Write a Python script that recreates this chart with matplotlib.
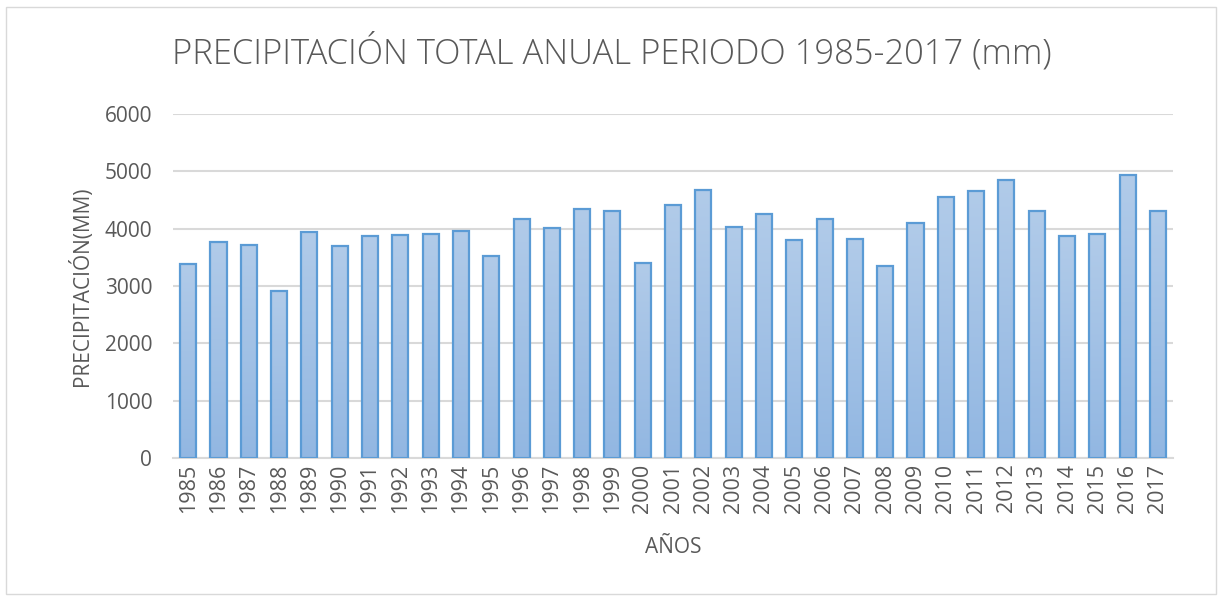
import matplotlib.pyplot as plt
import numpy as np
from matplotlib.patches import Rectangle
from matplotlib.colors import LinearSegmentedColormap

years = [str(y) for y in range(1985, 2018)]
precip = [3390, 3770, 3720, 2910, 3940, 3700, 3880, 3890, 3910, 3960,
          3520, 4170, 4010, 4340, 4300, 3400, 4410, 4670, 4030, 4260,
          3800, 4170, 3820, 3350, 4100, 4550, 4660, 4850, 4310, 3870,
          3910, 4940, 4310]
yticks = [0, 1000, 2000, 3000, 4000, 5000, 6000]

plt.rcParams['font.family'] = ['Open Sans', 'DejaVu Sans']
txt = '#595959'

fig = plt.figure(figsize=(12.22, 5.99), dpi=100)
fig.patches.append(Rectangle((0.005, 0.008), 0.99, 0.98, transform=fig.transFigure,
                             fill=False, edgecolor='#D9D9D9', linewidth=1))
ax = fig.add_axes([0.1416, 0.2354, 0.8184, 0.5743])

x = np.arange(len(years))
bars = ax.bar(x, precip, width=0.53, facecolor='none', edgecolor='#5B9BD5',
              linewidth=1.6, zorder=3)

# vertical gradient fill inside each bar
grad = np.linspace(0, 1, 256).reshape(-1, 1)
cmap = LinearSegmentedColormap.from_list('g', ['#B1CBE9', '#92B7E2'])
for b in bars:
    x0, w, h = b.get_x(), b.get_width(), b.get_height()
    im = ax.imshow(grad, extent=[x0, x0 + w, 0, h], origin='upper', cmap=cmap,
                   aspect='auto', zorder=2)
    im.set_clip_path(b)

ax.set_xlim(-0.5, len(years) - 0.5)
ax.set_ylim(0, 6000)
ax.set_yticks(yticks)
ax.set_xticks(x)
ax.set_xticklabels(years, rotation=90)
ax.tick_params(axis='y', length=0, labelsize=15, colors=txt, pad=15)
ax.tick_params(axis='x', length=0, labelsize=15.5, colors=txt, pad=4)
ax.grid(axis='y', color='#D9D9D9', linewidth=1.5, zorder=0)
ax.set_axisbelow(True)
for s in ['top', 'right', 'left']:
    ax.spines[s].set_visible(False)
ax.spines['bottom'].set_color('#D9D9D9')
ax.spines['bottom'].set_linewidth(1.5)

ax.set_ylabel('PRECIPITACIÓN(MM)', fontsize=15, color=txt, labelpad=8)
ax.set_xlabel('AÑOS', fontsize=15, color=txt, labelpad=17)
fig.text(0.501, 0.913, 'PRECIPITACIÓN TOTAL ANUAL PERIODO 1985-2017 (mm)',
         ha='center', va='center', fontsize=24.8, color=txt, fontweight='light')

fig.savefig('out.png', dpi=100)
